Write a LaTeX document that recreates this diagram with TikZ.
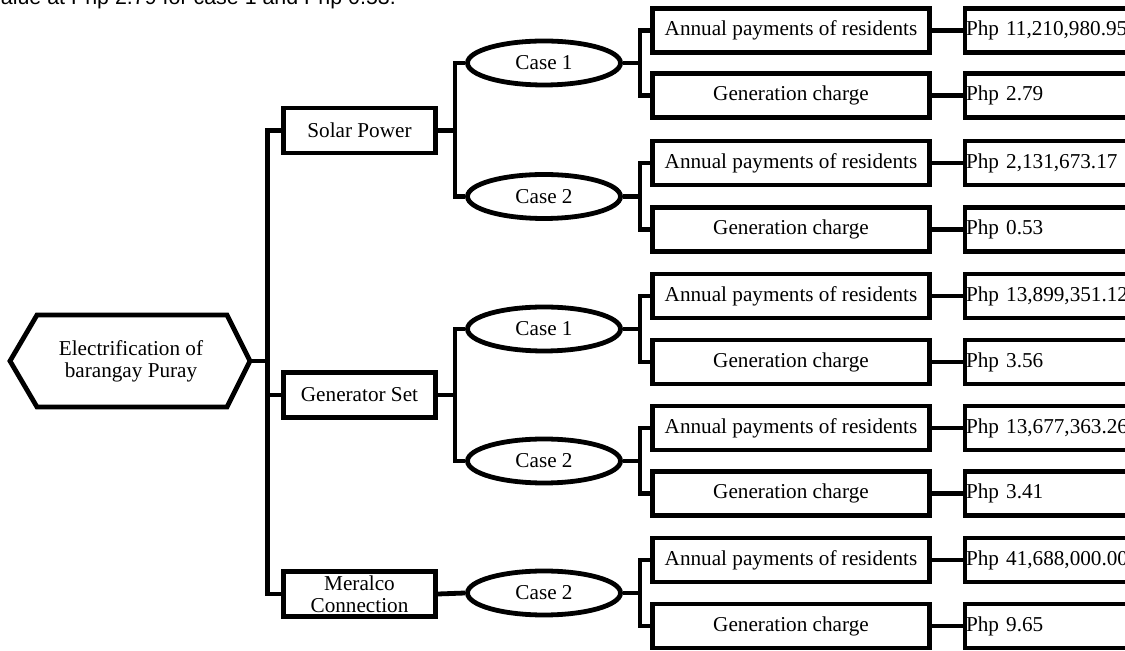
\documentclass[tikz,border=0pt]{standalone}
\usepackage{fontspec}
\setmainfont{Liberation Serif}
\newfontfamily\sansf{Liberation Sans}
\usetikzlibrary{shapes.geometric}
\begin{document}
\begin{tikzpicture}[x=0.5pt,y=-0.5pt,
  lw/.style={line width=2.4pt},
  txt/.style={font=\fontsize{10.6}{11}\selectfont},
  rowbox/.style={draw,lw,txt,inner sep=0pt,minimum width=138.5pt,minimum height=22pt},
  valbox/.style={draw,lw,txt,anchor=west,inner xsep=0.6pt,inner ysep=0pt,text width=98pt,align=left,minimum height=22pt},
  casebox/.style={draw,lw,txt,ellipse,inner sep=0pt,minimum width=76.5pt,minimum height=22pt},
  lvlbox/.style={draw,lw,txt,inner sep=0pt,minimum width=76pt,minimum height=22.5pt,align=center},
  conn/.style={lw}]
\fill[white] (0,0) rectangle (1125,651);
\useasboundingbox (0,0) rectangle (1125,651);

% cut-off text at top
\node[font=\sansf\fontsize{10.7}{12}\selectfont,anchor=base west,inner sep=0pt] (toptext) at (0.5,4.5) {alue at Php 2.79 for case 1 and Php 0.53.};

% root hexagon
\coordinate (hL) at (10,361);
\coordinate (hTL) at (37,315);
\coordinate (hTR) at (227,315);
\coordinate (hR) at (250,361);
\coordinate (hBR) at (227,407);
\coordinate (hBL) at (37,407);
\draw[lw] (hL) -- (hTL) -- (hTR) -- (hR) -- (hBR) -- (hBL) -- cycle;
\node[txt,align=center] (root) at (131,361) {Electrification of\\barangay Puray};

% level 1
\node[lvlbox] (sol) at (359.5,130.5) {Solar Power};
\node[lvlbox] (gen) at (359.5,395) {Generator Set};
\node[lvlbox] (mer) at (359.5,594) {Meralco\\Connection};

% cases
\node[casebox] (sc1) at (544,63) {Case 1};
\node[casebox] (sc2) at (544,196.5) {Case 2};
\node[casebox] (gc1) at (544,329) {Case 1};
\node[casebox] (gc2) at (544,461) {Case 2};
\node[casebox] (mc2) at (544,593) {Case 2};

% rows
\node[rowbox] (a1) at (791,30.5) {Annual payments of residents};
\node[rowbox] (g1) at (791,95.5) {Generation charge};
\node[rowbox] (a2) at (791,163) {Annual payments of residents};
\node[rowbox] (g2) at (791,229.5) {Generation charge};
\node[rowbox] (a3) at (791,296) {Annual payments of residents};
\node[rowbox] (g3) at (791,362) {Generation charge};
\node[rowbox] (a4) at (791,428) {Annual payments of residents};
\node[rowbox] (g4) at (791,493.5) {Generation charge};
\node[rowbox] (a5) at (791,560) {Annual payments of residents};
\node[rowbox] (g5) at (791,626) {Generation charge};

% values
\node[valbox] (v1) at (962.5,30.5) {Php 11,210,980.95};
\node[valbox] (v2) at (962.5,95.5) {Php 2.79};
\node[valbox] (v3) at (962.5,163) {Php 2,131,673.17};
\node[valbox] (v4) at (962.5,229.5) {Php 0.53};
\node[valbox] (v5) at (962.5,296) {Php 13,899,351.12};
\node[valbox] (v6) at (962.5,362) {Php 3.56};
\node[valbox] (v7) at (962.5,428) {Php 13,677,363.26};
\node[valbox] (v8) at (962.5,493.5) {Php 3.41};
\node[valbox] (v9) at (962.5,560) {Php 41,688,000.00};
\node[valbox] (v10) at (962.5,626) {Php 9.65};

% trunk
\coordinate (T) at (267.5,361);
\draw[conn] (hR) -- (T);
\draw[conn] (sol.west) -| (T) |- (mer.west);
\draw[conn] (gen.west) -- (gen.west -| T);

% level-1 branches
\draw[conn] (sol.east) -- ++(17,0) coordinate (sb);
\draw[conn] (sc1.west) -| (sb) |- (sc2.west);
\draw[conn] (gen.east) -- ++(17,0) coordinate (gb);
\draw[conn] (gc1.west) -| (gb) |- (gc2.west);
\draw[conn] (mer.east) -- (mc2.west);

% case forks
\draw[conn] (sc1.east) -- ++(17,0) coordinate (f1);
\draw[conn] (a1.west) -| (f1) |- (g1.west);
\draw[conn] (sc2.east) -- ++(17,0) coordinate (f2);
\draw[conn] (a2.west) -| (f2) |- (g2.west);
\draw[conn] (gc1.east) -- ++(17,0) coordinate (f3);
\draw[conn] (a3.west) -| (f3) |- (g3.west);
\draw[conn] (gc2.east) -- ++(17,0) coordinate (f4);
\draw[conn] (a4.west) -| (f4) |- (g4.west);
\draw[conn] (mc2.east) -- ++(17,0) coordinate (f5);
\draw[conn] (a5.west) -| (f5) |- (g5.west);

% row to value
\foreach \r/\v in {a1/v1,g1/v2,a2/v3,g2/v4,a3/v5,g3/v6,a4/v7,g4/v8,a5/v9,g5/v10}
  \draw[conn] (\r.east) -- (\v.west);
\end{tikzpicture}
\end{document}
